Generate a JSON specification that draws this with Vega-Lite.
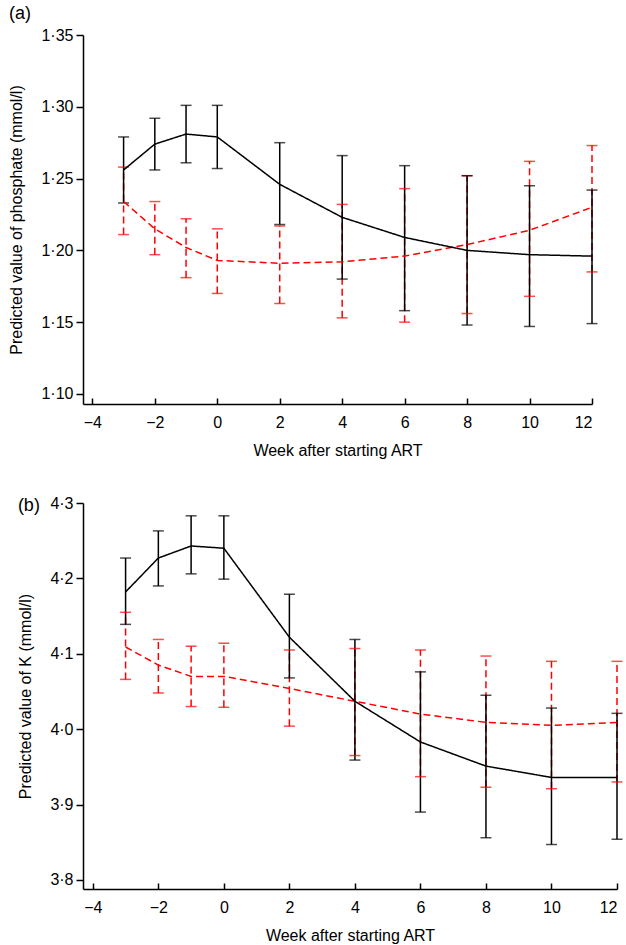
{
  "$schema": "https://vega.github.io/schema/vega-lite/v6.json",
  "padding": {"left": 8, "top": 5, "right": 5, "bottom": 5},
  "background": "white",
  "datasets": {
    "phosphate": [
      {"week": -3, "group": "Group 2", "est": 1.234, "lo": 1.211, "hi": 1.258},
      {"week": -2, "group": "Group 2", "est": 1.215, "lo": 1.197, "hi": 1.234},
      {"week": -1, "group": "Group 2", "est": 1.202, "lo": 1.181, "hi": 1.222},
      {"week": 0, "group": "Group 2", "est": 1.193, "lo": 1.170, "hi": 1.215},
      {"week": 2, "group": "Group 2", "est": 1.191, "lo": 1.163, "hi": 1.217},
      {"week": 4, "group": "Group 2", "est": 1.192, "lo": 1.153, "hi": 1.232},
      {"week": 6, "group": "Group 2", "est": 1.196, "lo": 1.150, "hi": 1.243},
      {"week": 8, "group": "Group 2", "est": 1.204, "lo": 1.156, "hi": 1.252},
      {"week": 10, "group": "Group 2", "est": 1.214, "lo": 1.168, "hi": 1.262},
      {"week": 12, "group": "Group 2", "est": 1.230, "lo": 1.185, "hi": 1.273},
      {"week": -3, "group": "Group 1", "est": 1.256, "lo": 1.233, "hi": 1.279},
      {"week": -2, "group": "Group 1", "est": 1.274, "lo": 1.256, "hi": 1.292},
      {"week": -1, "group": "Group 1", "est": 1.281, "lo": 1.261, "hi": 1.301},
      {"week": 0, "group": "Group 1", "est": 1.279, "lo": 1.257, "hi": 1.301},
      {"week": 2, "group": "Group 1", "est": 1.246, "lo": 1.218, "hi": 1.275},
      {"week": 4, "group": "Group 1", "est": 1.223, "lo": 1.180, "hi": 1.266},
      {"week": 6, "group": "Group 1", "est": 1.209, "lo": 1.158, "hi": 1.259},
      {"week": 8, "group": "Group 1", "est": 1.200, "lo": 1.148, "hi": 1.252},
      {"week": 10, "group": "Group 1", "est": 1.197, "lo": 1.147, "hi": 1.245},
      {"week": 12, "group": "Group 1", "est": 1.196, "lo": 1.149, "hi": 1.242}
    ],
    "potassium": [
      {"week": -3, "group": "Group 2", "est": 4.109, "lo": 4.066, "hi": 4.155},
      {"week": -2, "group": "Group 2", "est": 4.085, "lo": 4.048, "hi": 4.119},
      {"week": -1, "group": "Group 2", "est": 4.070, "lo": 4.030, "hi": 4.110},
      {"week": 0, "group": "Group 2", "est": 4.070, "lo": 4.029, "hi": 4.114},
      {"week": 2, "group": "Group 2", "est": 4.054, "lo": 4.004, "hi": 4.105},
      {"week": 4, "group": "Group 2", "est": 4.037, "lo": 3.965, "hi": 4.107},
      {"week": 6, "group": "Group 2", "est": 4.020, "lo": 3.937, "hi": 4.105},
      {"week": 8, "group": "Group 2", "est": 4.009, "lo": 3.923, "hi": 4.097},
      {"week": 10, "group": "Group 2", "est": 4.005, "lo": 3.921, "hi": 4.090},
      {"week": 12, "group": "Group 2", "est": 4.009, "lo": 3.930, "hi": 4.090},
      {"week": -3, "group": "Group 1", "est": 4.182, "lo": 4.139, "hi": 4.227},
      {"week": -2, "group": "Group 1", "est": 4.227, "lo": 4.190, "hi": 4.263},
      {"week": -1, "group": "Group 1", "est": 4.243, "lo": 4.206, "hi": 4.283},
      {"week": 0, "group": "Group 1", "est": 4.240, "lo": 4.199, "hi": 4.283},
      {"week": 2, "group": "Group 1", "est": 4.122, "lo": 4.068, "hi": 4.179},
      {"week": 4, "group": "Group 1", "est": 4.037, "lo": 3.959, "hi": 4.119},
      {"week": 6, "group": "Group 1", "est": 3.983, "lo": 3.890, "hi": 4.076},
      {"week": 8, "group": "Group 1", "est": 3.951, "lo": 3.856, "hi": 4.045},
      {"week": 10, "group": "Group 1", "est": 3.936, "lo": 3.847, "hi": 4.028},
      {"week": 12, "group": "Group 1", "est": 3.936, "lo": 3.854, "hi": 4.021}
    ]
  },
  "config": {
    "view": {"stroke": null},
    "font": "Liberation Sans",
    "axis": {
      "grid": false,
      "domainColor": "black",
      "domainWidth": 1.5,
      "tickColor": "black",
      "tickWidth": 1.5,
      "labelColor": "black",
      "titleColor": "black",
      "labelFont": "Liberation Sans",
      "titleFont": "Liberation Sans",
      "labelFontSize": 16,
      "titleFontSize": 16,
      "titleFontWeight": "normal"
    },
    "axisX": {"tickSize": -6, "labelPadding": 16, "titlePadding": 12},
    "axisY": {"tickSize": 7, "labelPadding": 3, "titlePadding": 16},
    "title": {"font": "Liberation Sans", "fontSize": 18, "fontWeight": "normal", "anchor": "start", "frame": "bounds", "color": "black"}
  },
  "spacing": 37,
  "vconcat": [
    {
      "title": {"text": "(a)", "offset": 4},
      "width": 509,
      "height": 369,
      "data": {"name": "phosphate"},
      "encoding": {
        "x": {"field": "week", "type": "quantitative", "scale": {"domain": [-4.3, 12], "nice": false, "zero": false},
              "axis": {"title": "Week after starting ART", "values": [-4, -2, 0, 2, 4, 6, 8, 10, 12]}},
        "color": {"field": "group", "type": "nominal", "scale": {"domain": ["Group 1", "Group 2"], "range": ["black", "#ff0000"]}, "legend": null},
        "strokeDash": {"field": "group", "type": "nominal", "scale": {"domain": ["Group 1", "Group 2"], "range": [[1, 0], [7, 4]]}, "legend": null}
      },
      "layer": [
        {
          "mark": {"type": "rule", "strokeWidth": 1.5},
          "encoding": {
            "y": {"field": "lo", "type": "quantitative", "scale": {"domain": [1.093, 1.35], "nice": false, "zero": false},
                  "axis": {"title": "Predicted value of phosphate (mmol/l)", "values": [1.10, 1.15, 1.20, 1.25, 1.30, 1.35],
                           "labelExpr": "replace(format(datum.value, '.2f'), '.', '·')"}},
            "y2": {"field": "hi"}
          }
        },
        {
          "mark": {"type": "tick", "orient": "horizontal", "size": 11, "thickness": 1.5},
          "encoding": {"y": {"field": "lo", "type": "quantitative"}, "strokeDash": {"value": [1, 0]}}
        },
        {
          "mark": {"type": "tick", "orient": "horizontal", "size": 11, "thickness": 1.5},
          "encoding": {"y": {"field": "hi", "type": "quantitative"}, "strokeDash": {"value": [1, 0]}}
        },
        {
          "mark": {"type": "line", "strokeWidth": 1.5},
          "encoding": {"y": {"field": "est", "type": "quantitative"}}
        }
      ]
    },
    {
      "title": {"text": "(b)", "offset": 4, "dy": 24},
      "width": 534,
      "height": 386,
      "data": {"name": "potassium"},
      "encoding": {
        "x": {"field": "week", "type": "quantitative", "scale": {"domain": [-4.3, 12], "nice": false, "zero": false},
              "axis": {"title": "Week after starting ART", "values": [-4, -2, 0, 2, 4, 6, 8, 10, 12]}},
        "color": {"field": "group", "type": "nominal", "scale": {"domain": ["Group 1", "Group 2"], "range": ["black", "#ff0000"]}, "legend": null},
        "strokeDash": {"field": "group", "type": "nominal", "scale": {"domain": ["Group 1", "Group 2"], "range": [[1, 0], [7, 4]]}, "legend": null}
      },
      "layer": [
        {
          "mark": {"type": "rule", "strokeWidth": 1.5},
          "encoding": {
            "y": {"field": "lo", "type": "quantitative", "scale": {"domain": [3.788, 4.3], "nice": false, "zero": false},
                  "axis": {"title": "Predicted value of K (mmol/l)", "values": [3.8, 3.9, 4.0, 4.1, 4.2, 4.3],
                           "labelExpr": "replace(format(datum.value, '.1f'), '.', '·')"}},
            "y2": {"field": "hi"}
          }
        },
        {
          "mark": {"type": "tick", "orient": "horizontal", "size": 11, "thickness": 1.5},
          "encoding": {"y": {"field": "lo", "type": "quantitative"}, "strokeDash": {"value": [1, 0]}}
        },
        {
          "mark": {"type": "tick", "orient": "horizontal", "size": 11, "thickness": 1.5},
          "encoding": {"y": {"field": "hi", "type": "quantitative"}, "strokeDash": {"value": [1, 0]}}
        },
        {
          "mark": {"type": "line", "strokeWidth": 1.5},
          "encoding": {"y": {"field": "est", "type": "quantitative"}}
        }
      ]
    }
  ]
}
